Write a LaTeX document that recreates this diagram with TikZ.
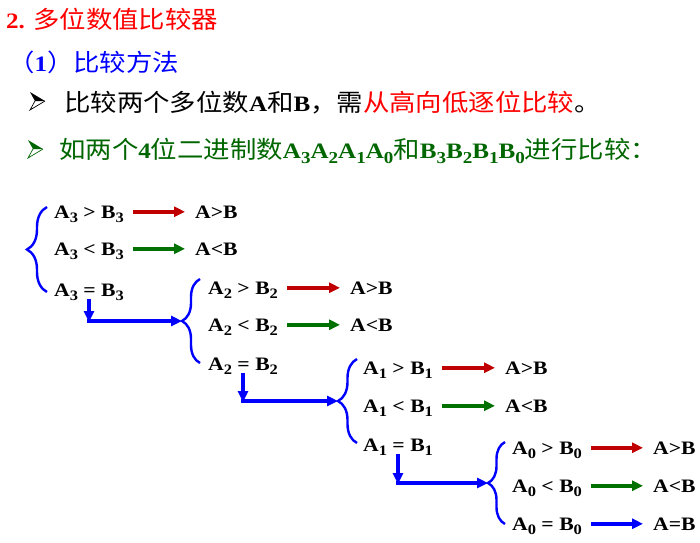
\documentclass[tikz,border=0pt]{standalone}
\usepackage{fontspec}
\usepackage{graphicx}
\setmainfont{Liberation Serif}[FakeStretch=1.14]
\newfontfamily\cjk{Noto Sans CJK SC}[FakeStretch=1.1]
\usetikzlibrary{arrows.meta,decorations.pathreplacing,calc}
\definecolor{tred}{RGB}{255,0,0}
\definecolor{tblue}{RGB}{0,0,255}
\definecolor{tgreen}{RGB}{0,102,0}
\definecolor{ared}{RGB}{192,0,0}
\definecolor{agreen}{RGB}{0,112,0}
\newcommand\zh[1]{{\cjk\mdseries\fontsize{24}{26}\selectfont #1}}
\newcommand\sbs[1]{\raisebox{-0.24em}{\scalebox{0.76}{#1}}}
\begin{document}
\begin{tikzpicture}[x=1pt,y=-1pt,
  lbl/.style={anchor=base west,inner sep=0pt,font=\fontsize{19}{20}\selectfont\bfseries},
  txt/.style={anchor=base west,inner sep=0pt,font=\fontsize{22}{24}\selectfont\bfseries},
  arr/.style={line width=3.6pt,-{Triangle[length=11pt,width=10pt]}},
  rarr/.style={arr,draw=ared},
  garr/.style={arr,draw=agreen},
  barr/.style={arr,draw=tblue},
  bracebox/.style={draw=tblue,line width=2.4pt,decorate,decoration={brace,amplitude=#1}},
  bulletpic/.pic={
    \fill (0,0) -- (15,9) -- (5,9) -- cycle;
    \draw[line width=0.7pt,line join=miter] (15,9) -- (0,18) -- (5,9);
  }]
\path[use as bounding box,fill=white] (0,0) rectangle (700,542);

% header texts
\node[txt,text=tred] (title) at (6,28) {2. \zh{多位数值比较器}};
\node[txt,text=tblue] (method) at (8,71) {\zh{（}1\zh{）比较方法}};
\pic[black] at (30,92) {bulletpic};
\node[txt] (line3) at (64,111) {\zh{比较两个多位数}A\zh{和}B\zh{，需}\textcolor{tred}{\zh{从高向低逐位比较}}\zh{。}};
\pic[tgreen] at (28,140) {bulletpic};
\node[txt,text=tgreen] (line4) at (59,158) {\zh{如两个}4\zh{位二进制数}A\sbs{3}A\sbs{2}A\sbs{1}A\sbs{0}\zh{和}B\sbs{3}B\sbs{2}B\sbs{1}B\sbs{0}\zh{进行比较：}};

% level 3
\draw[bracebox=20] (47,292) -- (47,207);
\node[lbl] (g3) at (54,218) {A\sbs{3} > B\sbs{3}};
\node[lbl] (l3) at (54,255) {A\sbs{3} < B\sbs{3}};
\node[lbl] (e3) at (54,296) {A\sbs{3} = B\sbs{3}};
\node[lbl] (rg3) at (195,218) {A>B};
\node[lbl] (rl3) at (195,255) {A<B};
\draw[rarr] ($(g3.east |- rg3.west)+(9,0)$) -- ($(rg3.west)+(-10,0)$);
\draw[garr] ($(l3.east |- rl3.west)+(9,0)$) -- ($(rl3.west)+(-10,0)$);
\coordinate (c3) at (89,322);
\coordinate (t2) at (182,321);
\draw[barr] ($(e3.south -| c3)+(0,-2)$) -- (c3);
\draw[barr] ($(c3)+(-2,-1)$) -- (t2);

% level 2
\draw[bracebox=18] (200,363) -- (200,279);
\node[lbl] (g2) at (208,294) {A\sbs{2} > B\sbs{2}};
\node[lbl] (l2) at (208,331) {A\sbs{2} < B\sbs{2}};
\node[lbl] (e2) at (208,370) {A\sbs{2} = B\sbs{2}};
\node[lbl] (rg2) at (350,294) {A>B};
\node[lbl] (rl2) at (350,331) {A<B};
\draw[rarr] ($(g2.east |- rg2.west)+(9,0)$) -- ($(rg2.west)+(-10,0)$);
\draw[garr] ($(l2.east |- rl2.west)+(9,0)$) -- ($(rl2.west)+(-10,0)$);
\coordinate (c2) at (243,402);
\coordinate (t1) at (338,401);
\draw[barr] ($(e2.south -| c2)+(0,-2)$) -- (c2);
\draw[barr] ($(c2)+(-2,-1)$) -- (t1);

% level 1
\draw[bracebox=19] (357,443) -- (357,359);
\node[lbl] (g1) at (363,374) {A\sbs{1} > B\sbs{1}};
\node[lbl] (l1) at (363,412) {A\sbs{1} < B\sbs{1}};
\node[lbl] (e1) at (363,451) {A\sbs{1} = B\sbs{1}};
\node[lbl] (rg1) at (505,374) {A>B};
\node[lbl] (rl1) at (505,412) {A<B};
\draw[rarr] ($(g1.east |- rg1.west)+(9,0)$) -- ($(rg1.west)+(-10,0)$);
\draw[garr] ($(l1.east |- rl1.west)+(9,0)$) -- ($(rl1.west)+(-10,0)$);
\coordinate (c1) at (398,484);
\coordinate (t0) at (488,483);
\draw[barr] ($(e1.south -| c1)+(0,-2)$) -- (c1);
\draw[barr] ($(c1)+(-2,-1)$) -- (t0);

% level 0
\draw[bracebox=17] (505,524) -- (505,442);
\node[lbl] (g0) at (512,454) {A\sbs{0} > B\sbs{0}};
\node[lbl] (l0) at (512,492) {A\sbs{0} < B\sbs{0}};
\node[lbl] (e0) at (512,530) {A\sbs{0} = B\sbs{0}};
\node[lbl] (rg0) at (653,454) {A>B};
\node[lbl] (rl0) at (653,492) {A<B};
\node[lbl] (re0) at (653,530) {A=B};
\draw[rarr] ($(g0.east |- rg0.west)+(9,0)$) -- ($(rg0.west)+(-10,0)$);
\draw[garr] ($(l0.east |- rl0.west)+(9,0)$) -- ($(rl0.west)+(-10,0)$);
\draw[barr] ($(e0.east |- re0.west)+(9,0)$) -- ($(re0.west)+(-10,0)$);
\end{tikzpicture}
\end{document}
